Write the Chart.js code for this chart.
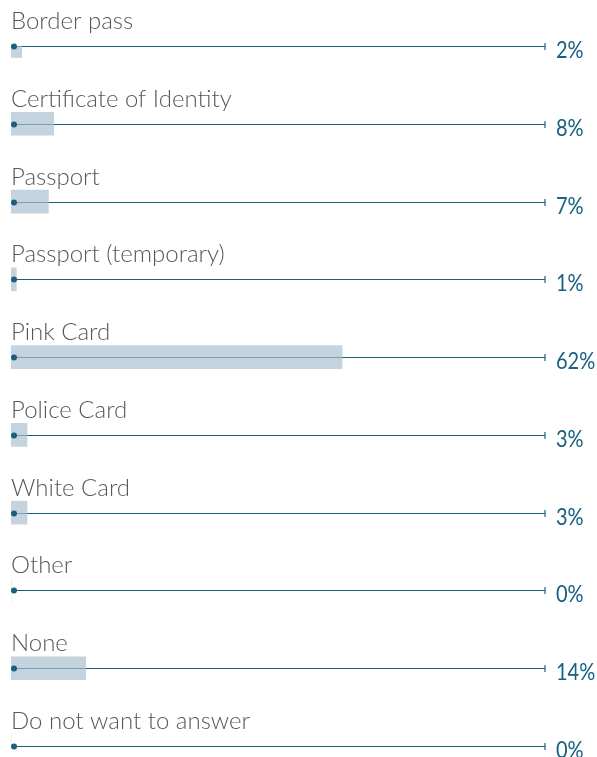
<!DOCTYPE html>
<html>
<head>
<meta charset="utf-8">
<script src="https://cdn.jsdelivr.net/npm/chart.js@4"></script>
<style>
  html, body { margin: 0; padding: 0; background: #fff; }
  .chart__wrap { width: 597px; height: 757px; position: relative; }
</style>
</head>
<body>
<div class="chart__wrap"><canvas id="myChart"></canvas></div>
<script>
const categories = [
  'Border pass',
  'Certificate of Identity',
  'Passport',
  'Passport (temporary)',
  'Pink Card',
  'Police Card',
  'White Card',
  'Other',
  'None',
  'Do not want to answer'
]
const shares = [2, 8, 7, 1, 62, 3, 3, 0, 14, 0]
const trackMax = 100

const lineColor = '#1b5f7d'
const labelFont = '300 24px Lato'
const valueFont = '400 23px Lato'

// track line, dot and end tick behind each bar
const trackPlugin = {
  id: 'track',
  beforeDatasetsDraw: chart => {
    const { ctx, scales } = chart
    const x0 = scales.x.getPixelForValue(0)
    const x1 = scales.x.getPixelForValue(trackMax)
    ctx.save()
    categories.forEach((cat, i) => {
      const y = Math.round(scales.y.getPixelForValue(i)) + 0.5
      ctx.strokeStyle = lineColor
      ctx.lineWidth = 1.2
      ctx.beginPath()
      ctx.moveTo(x0 + 3, y)
      ctx.lineTo(x1, y)
      ctx.moveTo(x1, y - 3.5)
      ctx.lineTo(x1, y + 3.5)
      ctx.stroke()
    })
    ctx.restore()
  },
  afterDatasetsDraw: chart => {
    const { ctx, scales } = chart
    const x0 = scales.x.getPixelForValue(0)
    const x1 = scales.x.getPixelForValue(trackMax)
    ctx.save()
    categories.forEach((cat, i) => {
      const y = Math.round(scales.y.getPixelForValue(i)) + 0.5
      ctx.fillStyle = lineColor
      ctx.beginPath()
      ctx.arc(x0 + 3, y, 3, 0, Math.PI * 2)
      ctx.fill()

      ctx.textBaseline = 'alphabetic'
      ctx.textAlign = 'left'
      ctx.fillStyle = '#585858'
      ctx.font = labelFont
      ctx.fillText(cat, x0, y - 18)

      // value text, a bit condensed like the original face
      ctx.save()
      ctx.translate(x1 + 11, y + 11)
      ctx.scale(0.87, 1)
      ctx.fillStyle = '#17607f'
      ctx.font = valueFont
      ctx.fillText(shares[i] + '%', 0, 0)
      ctx.restore()
    })
    ctx.restore()
  }
}

const initChart = () => {
  const ctx = document.getElementById('myChart').getContext('2d')
  const config = {
    type: 'bar',
    data: {
      labels: categories,
      datasets: [
        {
          data: shares,
          backgroundColor: 'rgba(170, 190, 206, 0.68)',
          borderWidth: 0,
          barThickness: 23
        }
      ]
    },
    options: {
      indexAxis: 'y',
      responsive: true,
      maintainAspectRatio: false,
      animation: false,
      layout: {
        padding: { left: 11, right: 52, top: 46, bottom: 11 }
      },
      plugins: {
        legend: { display: false },
        tooltip: { enabled: false }
      },
      scales: {
        x: {
          display: false,
          min: 0,
          max: trackMax
        },
        y: {
          display: false,
          offset: false
        }
      }
    },
    plugins: [trackPlugin]
  }

  const myChart = new Chart(ctx, config)
}

initChart()
</script>
</body>
</html>
